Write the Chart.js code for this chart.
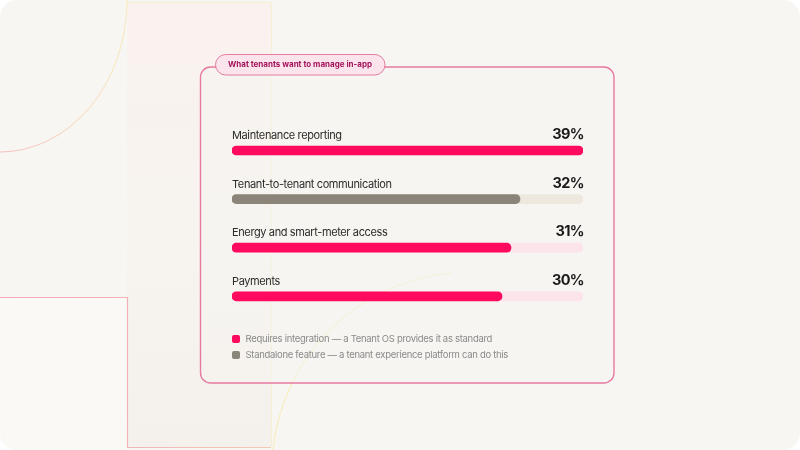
<!DOCTYPE html>
<html><head><meta charset="utf-8">
<script src="https://cdn.jsdelivr.net/npm/chart.js@4.4.1/dist/chart.umd.min.js"></script>
<style>html,body{margin:0;padding:0;background:#fff;}canvas{display:block}</style>
</head><body><canvas id="c" width="800" height="450"></canvas>
<script>
const chartTitle = 'What tenants want to manage in-app';
const categories = ['Maintenance reporting', 'Tenant-to-tenant communication', 'Energy and smart-meter access', 'Payments'];
const values = [39, 32, 31, 30];
const featureType = ['integration', 'standalone', 'integration', 'integration'];
const legendKeys = ['integration', 'standalone'];
const legendLabels = ['Requires integration \u2014 a Tenant OS provides it as standard', 'Standalone feature \u2014 a tenant experience platform can do this'];
const valueSuffix = '%';

const BAR = {integration: '#ff0a5f', standalone: '#8b8478'};
const TRACK = {integration: '#fde3ea', standalone: '#ece8de'};
const FONT = 'Inter, "Noto Sans", sans-serif';

function rr(ctx, x, y, w, h, r) { ctx.beginPath(); ctx.roundRect(x, y, w, h, r); }

const bgPlugin = {
  id: 'bg',
  beforeDraw(chart) {
    const ctx = chart.ctx;
    ctx.save();
    ctx.fillStyle = '#ffffff';
    ctx.fillRect(0, 0, 800, 450);
    rr(ctx, 0, 0, 800, 450, 17);
    ctx.fillStyle = '#f8f6f2';
    ctx.fill();
    ctx.clip();
    // faint band
    let g = ctx.createLinearGradient(0, 0, 0, 450);
    g.addColorStop(0, 'rgba(252,236,234,0.45)');
    g.addColorStop(0.5, 'rgba(246,238,234,0.35)');
    g.addColorStop(1, 'rgba(238,234,230,0.4)');
    ctx.fillStyle = g;
    ctx.fillRect(127, 2, 144, 446);
    ctx.lineWidth = 1;
    ctx.strokeStyle = 'rgba(247,236,200,0.75)';
    ctx.beginPath(); ctx.moveTo(127, 2.5); ctx.lineTo(271.5, 2.5); ctx.lineTo(271.5, 447); ctx.stroke();
    // bottom-left block
    ctx.fillStyle = '#fbf9f6';
    ctx.fillRect(0, 297, 127, 153);
    g = ctx.createLinearGradient(0, 297, 271, 447);
    g.addColorStop(0, '#f3a9b9');
    g.addColorStop(0.6, '#f4b4b8');
    g.addColorStop(1, '#f5c8b4');
    ctx.strokeStyle = g;
    ctx.lineWidth = 1.2;
    ctx.beginPath(); ctx.moveTo(0, 297.5); ctx.lineTo(127.5, 297.5); ctx.lineTo(127.5, 447.5); ctx.lineTo(271, 447.5); ctx.stroke();
    // top-left arc
    g = ctx.createLinearGradient(127, 0, 0, 152);
    g.addColorStop(0, 'rgba(246,234,190,0.9)');
    g.addColorStop(0.6, 'rgba(247,226,198,0.9)');
    g.addColorStop(1, 'rgba(244,190,188,0.9)');
    ctx.strokeStyle = g;
    ctx.lineWidth = 1.2;
    ctx.beginPath(); ctx.ellipse(0, 0, 127, 152, 0, 0, Math.PI / 2); ctx.stroke();
    // bottom arc
    ctx.strokeStyle = 'rgba(246,236,190,0.9)';
    ctx.beginPath(); ctx.arc(470, 470, 198, Math.PI * 1.0, Math.PI * 1.47); ctx.stroke();
    // card
    rr(ctx, 200.5, 67, 413.5, 316, 10);
    ctx.fillStyle = 'rgba(246,244,240,0.55)';
    ctx.fill();
    ctx.strokeStyle = '#e67aa0';
    ctx.lineWidth = 1.4;
    ctx.stroke();
    // pill
    rr(ctx, 215.5, 54.5, 169.5, 20.5, 10.25);
    ctx.fillStyle = '#fce4ec';
    ctx.fill();
    ctx.strokeStyle = '#e27ea0';
    ctx.lineWidth = 1;
    ctx.stroke();
    ctx.fillStyle = '#a3135a';
    ctx.font = '700 8px ' + FONT;
    ctx.textAlign = 'center';
    ctx.textBaseline = 'middle';
    ctx.fillText(chartTitle, 300, 64.8);
    ctx.restore();
  }
};

const labelPlugin = {
  id: 'labels',
  afterDatasetsDraw(chart) {
    const ctx = chart.ctx;
    const ys = chart.scales.y, area = chart.chartArea;
    ctx.save();
    ctx.textBaseline = 'alphabetic';
    categories.forEach((c, i) => {
      const y = ys.getPixelForValue(i);
      ctx.textAlign = 'left';
      ctx.fillStyle = '#2b2b2b';
      ctx.font = '400 11px ' + FONT;
      ctx.letterSpacing = '-0.38px';
      ctx.fillText(c, area.left, y - 11.5);
      ctx.textAlign = 'right';
      ctx.fillStyle = '#1a1a1a';
      ctx.font = '700 14.5px ' + FONT;
      ctx.letterSpacing = '-0.6px';
      ctx.fillText(values[i] + valueSuffix, area.right + 1, y - 11.5);
    });
    // legend
    legendKeys.forEach((k, i) => {
      const cy = 339 + i * 16;
      rr(ctx, 232, cy - 4, 8, 8, 2);
      ctx.fillStyle = BAR[k];
      ctx.fill();
      ctx.fillStyle = '#8a8a8a';
      ctx.font = '400 9.5px ' + FONT;
      ctx.letterSpacing = '-0.3px';
      ctx.textAlign = 'left';
      ctx.textBaseline = 'middle';
      ctx.fillText(legendLabels[i], 245.5, cy);
    });
    ctx.restore();
  }
};

const maxV = Math.max(...values);
new Chart(document.getElementById('c'), {
  type: 'bar',
  data: {
    labels: categories,
    datasets: [
      {data: values, backgroundColor: featureType.map(t => BAR[t]), order: 1},
      {data: categories.map(() => maxV), backgroundColor: featureType.map(t => TRACK[t]), order: 2}
    ]
  },
  options: {
    indexAxis: 'y',
    responsive: false,
    animation: false,
    devicePixelRatio: 1,
    layout: {padding: {left: 232, right: 217, top: 126.2, bottom: 129.4}},
    scales: {x: {display: false, min: 0, max: maxV}, y: {display: false}},
    plugins: {legend: {display: false}, tooltip: {enabled: false}},
    datasets: {bar: {grouped: false, barThickness: 9, borderRadius: 4.5, borderSkipped: false}}
  },
  plugins: [bgPlugin, labelPlugin]
});
</script></body></html>
